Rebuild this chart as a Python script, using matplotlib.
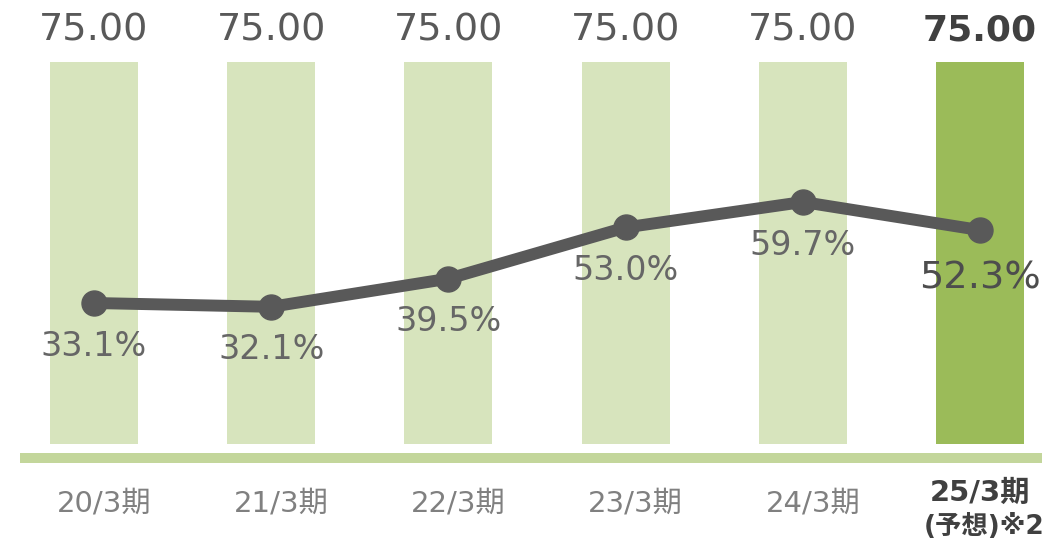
import matplotlib
matplotlib.use("Agg")
import matplotlib.pyplot as plt

plt.rcParams['font.family'] = ['DejaVu Sans', 'Noto Sans CJK JP']

categories = ["20/3期", "21/3期", "22/3期", "23/3期", "24/3期", "25/3期\n(予想)※2"]
dividends = [75.00, 75.00, 75.00, 75.00, 75.00, 75.00]
payout = [33.1, 32.1, 39.5, 53.0, 59.7, 52.3]

light = "#d7e4bd"
dark = "#9bbb59"
base_col = "#c3d69b"
line_col = "#595959"

fig = plt.figure(figsize=(10.63, 5.47), dpi=100)
ax = fig.add_axes([0, 0, 1, 1])
ax.set_xlim(-0.5305, 5.468)
ax.set_ylim(-20.22, 87.18)
ax.axis('off')

x = list(range(len(categories)))
colors = [light] * (len(x) - 1) + [dark]
ax.bar(x, dividends, width=0.497, color=colors, zorder=1)

# baseline
ax.plot([-0.418, 5.35], [-2.75, -2.75], color=base_col, lw=7.2,
        solid_capstyle='butt', zorder=1)

for i, v in enumerate(dividends):
    last = i == len(x) - 1
    ax.annotate(f"{v:.2f}", xy=(i, v), xytext=(0, 22.5), textcoords='offset points',
                ha='center', va='center', fontsize=26 if last else 27.5,
                fontweight='bold' if last else 'normal',
                color="#404040" if last else "#595959")

for i, c in enumerate(categories):
    last = i == len(x) - 1
    if last:
        l1, l2 = c.split("\n")
        ax.annotate(l1, xy=(i, 0), xytext=(0, -35.5), textcoords='offset points',
                    ha='center', va='center', fontsize=21, fontweight='bold', color="#404040")
        ax.annotate(l2, xy=(i, 0), xytext=(3, -59.5), textcoords='offset points',
                    ha='center', va='center', fontsize=19, fontweight='bold', color="#404040")
    else:
        ax.annotate(c, xy=(i, 0), xytext=(7.2, -42.5), textcoords='offset points',
                    ha='center', va='center', fontsize=21, color="#808080")

ax2 = ax.twinx()
ax2.set_ylim(-31.16, 112.9)
ax2.axis('off')
ax2.plot(x, payout, color=line_col, lw=8.6, marker='o', markersize=18,
         solid_joinstyle='round', zorder=3)
for i, p in enumerate(payout):
    last = i == len(x) - 1
    ax2.annotate(f"{p:.1f}%", xy=(i, p), xytext=(0, -34.5 if last else -31),
                 textcoords='offset points', ha='center', va='center',
                 fontsize=27.5 if last else 24,
                 color="#4d4d4d" if last else "#666666")

fig.savefig("out.png", dpi=100)
